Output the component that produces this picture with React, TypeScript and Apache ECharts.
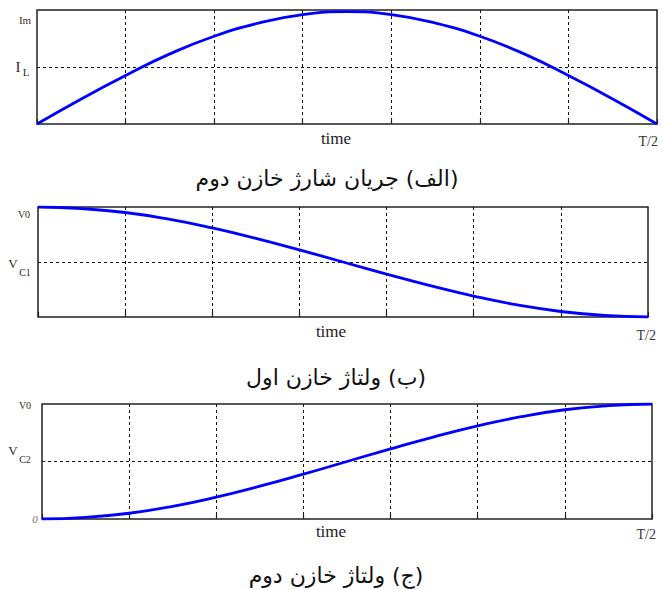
import React, { useEffect, useRef } from "react";
import * as echarts from "echarts";

// time samples across the half period (7 grid divisions)
const timeSteps = [0, 0.5, 1, 1.5, 2, 2.5, 3, 3.5, 4, 4.5, 5, 5.5, 6, 6.5, 7];

// (a) charging current of the second capacitor
const chargeCurrent = [0, 0.44, 0.85, 1.23, 1.54, 1.77, 1.92, 1.97, 1.92, 1.77, 1.54, 1.23, 0.85, 0.44, 0];
// (b) voltage of the first capacitor
const vc1 = [2, 1.97, 1.9, 1.78, 1.62, 1.43, 1.22, 1.0, 0.78, 0.57, 0.38, 0.22, 0.1, 0.03, 0];
// (c) voltage of the second capacitor
const vc2 = [0, 0.03, 0.1, 0.22, 0.38, 0.57, 0.78, 1.0, 1.22, 1.43, 1.62, 1.78, 1.9, 1.97, 2];

const captions = [
  "\u200F(الف) جریان شارژ خازن دوم\u200F",
  "\u200F(ب) ولتاژ خازن اول\u200F",
  "\u200F(ج) ولتاژ خازن دوم\u200F",
];
const xLabel = "time";
const xEndLabel = "T/2";

const grids = [
  { left: 37, top: 10, width: 620, height: 114 },
  { left: 38, top: 207, width: 610, height: 110 },
  { left: 42, top: 404, width: 610, height: 115 },
];

const seriesData = [chargeCurrent, vc1, vc2];

export default function App() {
  const ref = useRef<HTMLDivElement>(null);

  useEffect(() => {
    document.body.style.margin = "0";
    if (!ref.current) return;
    const chart = echarts.init(ref.current, null, { renderer: "svg" });

    const dashed = { show: true, showMinLine: false, showMaxLine: false, lineStyle: { color: "#111", type: [3, 3] as any, width: 1 } };

    const serif = "'Liberation Serif', 'DejaVu Serif', serif";
    const labelColor = "#3a2a20";
    const arabic = "'DejaVu Sans', sans-serif";

    const txt = (x: number, y: number, text: string, size: number, extra: any = {}) => ({
      type: "text",
      x,
      y,
      style: {
        text,
        fontFamily: serif,
        fontSize: size,
        fill: labelColor,
        textAlign: "center",
        textVerticalAlign: "middle",
        ...extra,
      },
    });

    const graphic: any[] = [
      // panel (a) labels
      txt(25, 20, "Im", 11),
      txt(18, 67, "I", 15),
      txt(26, 72, "L", 11),
      txt(336, 138, xLabel, 17, { fill: "#222" }),
      txt(658, 141, xEndLabel, 14, { textAlign: "right", fill: "#333" }),
      // panel (b) labels
      txt(24, 214, "V0", 10),
      txt(13, 263, "V", 13),
      txt(25, 272, "C1", 10),
      txt(331, 331, xLabel, 17, { fill: "#222" }),
      txt(656, 335, xEndLabel, 14, { textAlign: "right", fill: "#333" }),
      // panel (c) labels
      txt(25, 405, "V0", 10),
      txt(13, 450, "V", 13),
      txt(25, 459, "C2", 10),
      txt(35, 519, "0", 11, { fontStyle: "italic", fill: "#6a7080" }),
      txt(331, 531, xLabel, 17, { fill: "#222" }),
      txt(656, 534, xEndLabel, 14, { textAlign: "right", fill: "#333" }),
      // captions
      txt(327, 178, captions[0], 22, { fontFamily: arabic, fill: "#111" }),
      txt(336, 377, captions[1], 22, { fontFamily: arabic, fill: "#111" }),
      txt(336, 575, captions[2], 22, { fontFamily: arabic, fill: "#111" }),
    ];

    chart.setOption({
      animation: false,
      backgroundColor: "#fff",
      grid: grids.map((g) => ({ ...g, show: true, borderColor: "#222", borderWidth: 1.5, backgroundColor: "transparent" })),
      xAxis: grids.map((_, i) => ({
        type: "value",
        gridIndex: i,
        min: 0,
        max: 7,
        interval: 1,
        axisLine: { show: false },
        axisLabel: { show: false },
        axisTick: { show: true, inside: true, length: 5, lineStyle: { color: "#222", width: 1.2 } },
        splitLine: dashed,
      })),
      yAxis: grids.map((_, i) => ({
        type: "value",
        gridIndex: i,
        min: 0,
        max: 2,
        interval: 1,
        axisLine: { show: false },
        axisLabel: { show: false },
        axisTick: { show: false },
        splitLine: dashed,
      })),
      series: seriesData.map((d, i) => ({
        type: "line",
        xAxisIndex: i,
        yAxisIndex: i,
        data: d.map((v, k) => [timeSteps[k], v]),
        smooth: true,
        showSymbol: false,
        lineStyle: { color: "#0000ff", width: 2.8 },
        z: 5,
      })),
      graphic,
    });

    return () => chart.dispose();
  }, []);

  return <div ref={ref} style={{ width: 667, height: 590 }} />;
}
